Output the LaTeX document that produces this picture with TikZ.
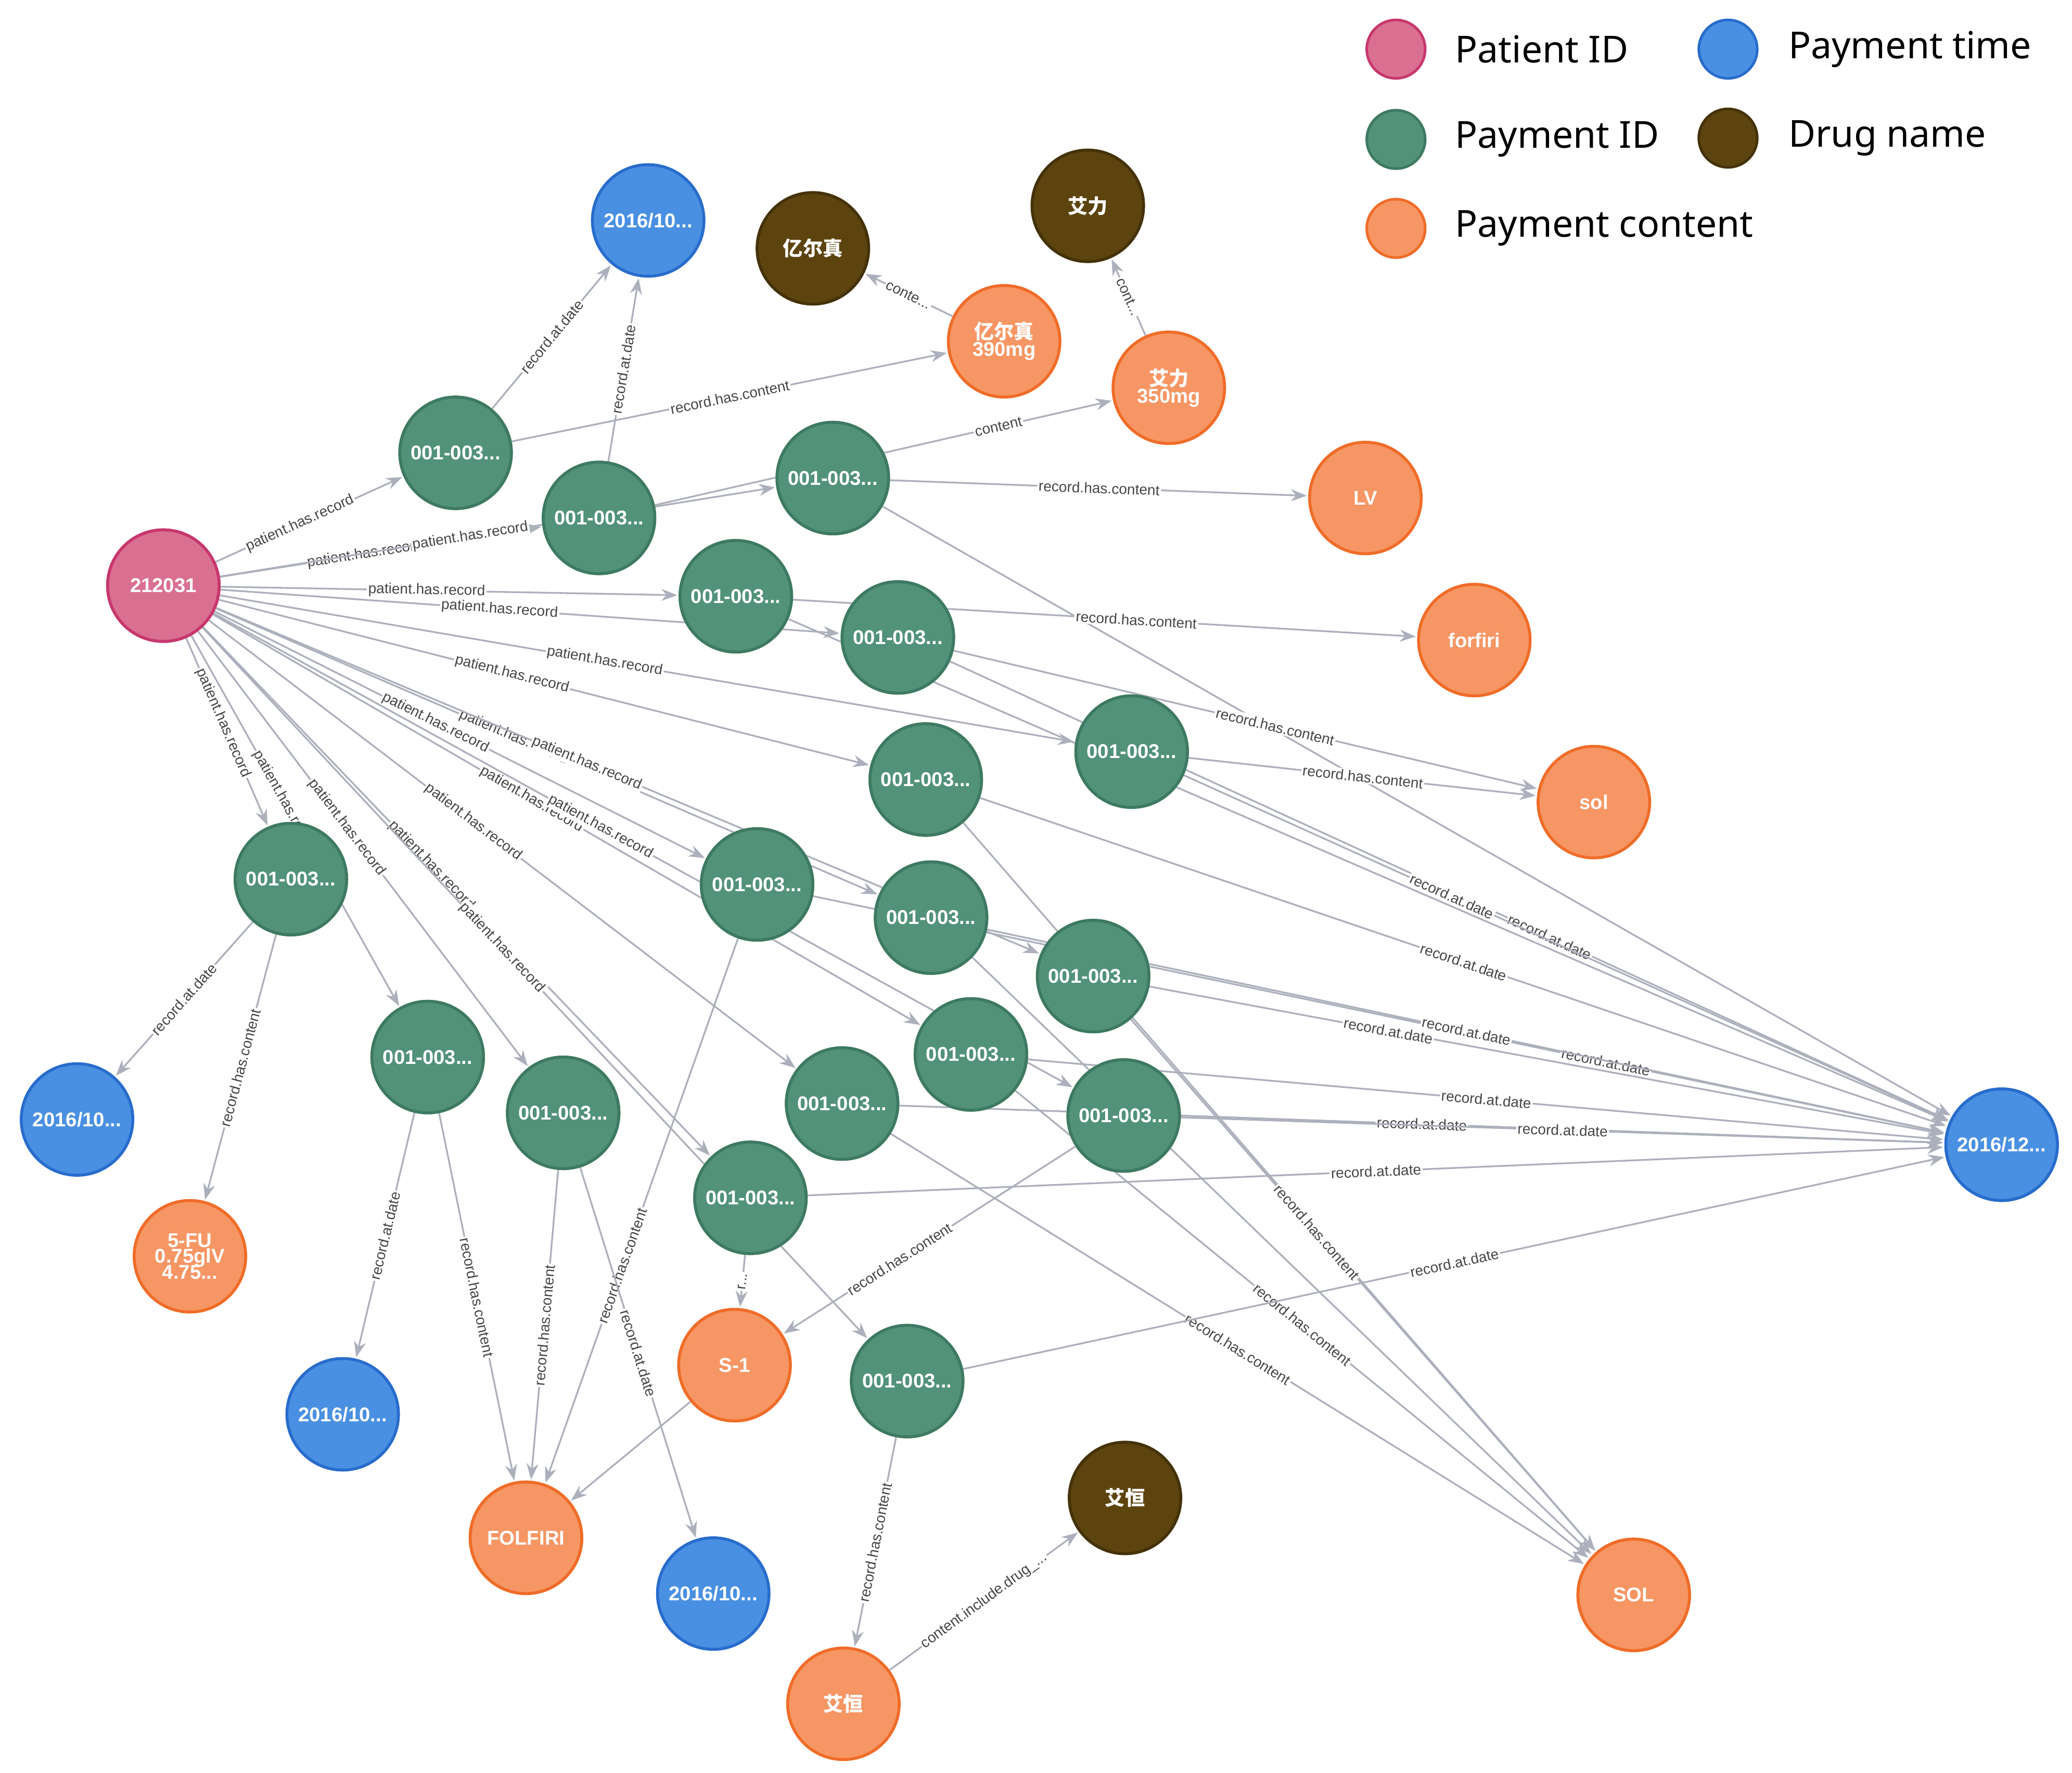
\documentclass[tikz,border=0pt]{standalone}
\usepackage{fontspec}
\setmainfont{Liberation Sans}
\newfontfamily\cjk{Noto Sans CJK SC}
\newfontfamily\leg{Noto Sans}
\usetikzlibrary{arrows.meta}
\definecolor{pinkF}{RGB}{218,112,145}\definecolor{pinkD}{RGB}{200,55,110}
\definecolor{grnF}{RGB}{82,146,122}\definecolor{grnD}{RGB}{62,122,98}
\definecolor{bluF}{RGB}{74,144,226}\definecolor{bluD}{RGB}{40,108,205}
\definecolor{brnF}{RGB}{93,68,15}\definecolor{brnD}{RGB}{68,50,10}
\definecolor{orgF}{RGB}{246,150,100}\definecolor{orgD}{RGB}{240,108,40}
\definecolor{edg}{RGB}{172,176,188}\definecolor{lbl}{RGB}{70,70,70}
\tikzset{
 nd/.style={circle,minimum size=84pt,inner sep=0pt,line width=2.2pt,text=white,font=\fontsize{15}{16}\selectfont\bfseries,align=center},
 pat/.style={nd,fill=pinkF,draw=pinkD},
 pay/.style={nd,fill=grnF,draw=grnD},
 tim/.style={nd,fill=bluF,draw=bluD},
 drg/.style={nd,fill=brnF,draw=brnD},
 cnt/.style={nd,fill=orgF,draw=orgD},
 e/.style={draw=edg,line width=1.3pt,-{Stealth[length=12pt,width=9pt]},shorten >=1pt},
 lab/.style={sloped,fill=white,inner sep=1pt,text=lbl,font=\fontsize{11}{12}\selectfont},
 legt/.style={anchor=west,font=\leg\fontsize{28}{30}\selectfont,text=black},
 legc/.style={circle,minimum size=44pt,inner sep=0pt,line width=2pt}
}
\begin{document}
\begin{tikzpicture}[x=1pt,y=-1pt]
\useasboundingbox (0,0) rectangle (1560,1335);
% nodes
\node[pat] (P) at (123,441) {212031};
\node[tim] (T1) at (488,166) {2016/10...};
\node[tim] (T2) at (58,843) {2016/10...};
\node[tim] (T3) at (258,1065) {2016/10...};
\node[tim] (T4) at (537,1200) {2016/10...};
\node[tim] (T5) at (1507,862) {2016/12...};
\node[drg] (D1) at (612,187) {\cjk 亿尔真};
\node[drg] (D2) at (819,155) {\cjk 艾力};
\node[drg] (D3) at (847,1128) {\cjk 艾恒};
\node[cnt] (C1) at (756,257) {{\cjk 亿尔真}\\[-3pt]390mg};
\node[cnt] (C2) at (880,292) {{\cjk 艾力}\\[-3pt]350mg};
\node[cnt] (C3) at (1028,375) {LV};
\node[cnt] (C4) at (1110,482) {forfiri};
\node[cnt] (C5) at (1200,604) {sol};
\node[cnt] (C6) at (143,946) {5-FU\\[-4pt]0.75glV\\[-4pt]4.75...};
\node[cnt] (C7) at (553,1028) {S-1};
\node[cnt] (C8) at (396,1158) {FOLFIRI};
\node[cnt] (C9) at (1230,1201) {SOL};
\node[cnt] (C10) at (635,1283) {\cjk 艾恒};
\foreach \n/\x/\y in {1/343/341,2/451/390,3/627/360,4/554/449,5/676/480,6/852/566,7/697/587,8/219/662,9/570/666,10/701/691,11/823/735,12/322/796,13/424/838,14/731/794,15/634/831,16/846/840,17/565/902,18/683/1040}
  \node[pay] (G\n) at (\x,\y) {001-003...};
% patient edges
\begin{scope}[on background layer/.style={}]
\foreach \n in {1,...,18}
  \draw[e] (P) -- node[lab,pos=0.45]{patient.has.record} (G\n);
\end{scope}
% record edges
\draw[e] (G1) -- node[lab]{record.at.date} (T1);
\draw[e] (G1) -- node[lab]{record.has.content} (C1);
\draw[e] (G2) -- node[lab]{record.at.date} (T1);
\draw[e] (G2) -- node[lab,pos=0.75]{content} (C2);
\draw[e] (G3) -- node[lab]{record.has.content} (C3);
\draw[e] (G3) -- (T5);
\draw[e] (C1) -- node[lab]{conte...} (D1);
\draw[e] (C2) -- node[lab]{cont...} (D2);
\draw[e] (G4) -- node[lab,pos=0.55]{record.has.content} (C4);
\draw[e] (G4) -- (T5);
\draw[e] (G5) -- node[lab,pos=0.55]{record.has.content} (C5);
\draw[e] (G5) -- node[lab,pos=0.6]{record.at.date} (T5);
\draw[e] (G6) -- node[lab]{record.has.content} (C5);
\draw[e] (G6) -- node[lab,pos=0.35]{record.at.date} (T5);
\draw[e] (G7) -- node[lab,pos=0.5]{record.at.date} (T5);
\draw[e] (G7) -- (C9);
\draw[e] (G8) -- node[lab]{record.at.date} (T2);
\draw[e] (G8) -- node[lab]{record.has.content} (C6);
\draw[e] (G9) -- node[lab,pos=0.6]{record.has.content} (C8);
\draw[e] (G9) -- node[lab,pos=0.7]{record.at.date} (T5);
\draw[e] (G10) -- node[lab,pos=0.5]{record.at.date} (T5);
\draw[e] (G10) -- (C9);
\draw[e] (G11) -- node[lab,pos=0.3]{record.at.date} (T5);
\draw[e] (G11) -- node[lab,pos=0.4]{record.has.content} (C9);
\draw[e] (G12) -- node[lab]{record.at.date} (T3);
\draw[e] (G12) -- node[lab]{record.has.content} (C8);
\draw[e] (G13) -- node[lab]{record.has.content} (C8);
\draw[e] (G13) -- node[lab]{record.at.date} (T4);
\draw[e] (G14) -- node[lab,pos=0.5]{record.at.date} (T5);
\draw[e] (G14) -- node[lab,pos=0.5]{record.has.content} (C9);
\draw[e] (G15) -- node[lab,pos=0.5]{record.at.date} (T5);
\draw[e] (G15) -- node[lab,pos=0.5]{record.has.content} (C9);
\draw[e] (G16) -- node[lab,pos=0.5]{record.at.date} (T5);
\draw[e] (G16) -- node[lab,pos=0.6]{record.has.content} (C7);
\draw[e] (G17) -- node[lab,pos=0.5]{record.at.date} (T5);
\draw[e] (G17) -- node[lab]{r...} (C7);
\draw[e] (G18) -- node[lab,pos=0.5]{record.at.date} (T5);
\draw[e] (G18) -- node[lab]{record.has.content} (C10);
\draw[e] (C7) -- (C8);
\draw[e] (C10) -- node[lab]{content.include.drug\_...} (D3);
% redraw nodes on top
\foreach \n/\x/\y in {1/343/341,2/451/390,3/627/360,4/554/449,5/676/480,6/852/566,7/697/587,8/219/662,9/570/666,10/701/691,11/823/735,12/322/796,13/424/838,14/731/794,15/634/831,16/846/840,17/565/902,18/683/1040}
  \node[pay] at (\x,\y) {001-003...};
\node[pat] at (123,441) {212031};
\node[cnt] at (553,1028) {S-1};
\node[cnt] at (396,1158) {FOLFIRI};
\node[cnt] at (1230,1201) {SOL};
\node[tim] at (1507,862) {2016/12...};
% legend
\node[legc,fill=pinkF,draw=pinkD] (L1) at (1051,37) {};
\node[legt] (L1t) at (1092,37) {Patient ID};
\node[legc,fill=grnF,draw=grnD] (L2) at (1051,105) {};
\node[legt] (L2t) at (1092,105) {Payment ID};
\node[legc,fill=orgF,draw=orgD] (L3) at (1051,172) {};
\node[legt] (L3t) at (1092,172) {Payment content};
\node[legc,fill=bluF,draw=bluD] (L4) at (1301,37) {};
\node[legt] (L4t) at (1343,37) {Payment time};
\node[legc,fill=brnF,draw=brnD] (L5) at (1301,104) {};
\node[legt] (L5t) at (1343,104) {Drug name};
\end{tikzpicture}
\end{document}
